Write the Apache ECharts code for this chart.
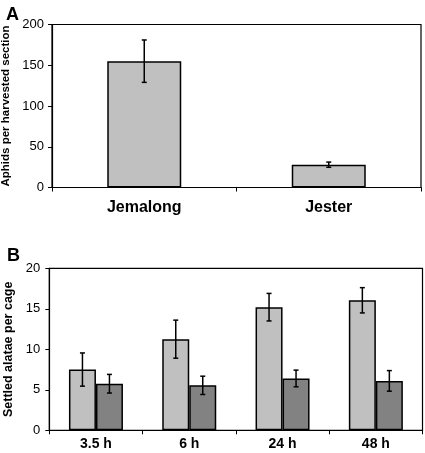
<!DOCTYPE html>
<html>
<head>
<meta charset="utf-8">
<script src="https://cdn.jsdelivr.net/npm/echarts@6/dist/echarts.min.js"></script>
<style>
html,body{margin:0;padding:0;background:#fff;}
#c{width:425px;height:453px;}
</style>
</head>
<body>
<div id="c"></div>
<script>
// Panel A data
const catsA = ['Jemalong', 'Jester'];
const valsA = [155, 28];
const errA = [26, 3.2];
const ticksA = [0, 50, 100, 150, 200];

// Panel B data
const catsB = ['3.5 h', '6 h', '24 h', '48 h'];
const lightB = [7.5, 11.25, 15.2, 16.05];
const lightErrB = [2.05, 2.35, 1.7, 1.56];
const darkB = [5.75, 5.55, 6.4, 6.1];
const darkErrB = [1.15, 1.13, 1.03, 1.27];
const ticksB = [0, 5, 10, 15, 20];

const FONT = "'Liberation Sans', Arial, Helvetica, sans-serif";
const LIGHT = '#c0c0c0';
const DARK = '#828282';
const BAR_W_B = 27;

function errRenderer(offsetPx) {
  return function (params, api) {
    const x = api.value(0);
    const v = api.value(1);
    const e = api.value(2);
    const top = api.coord([x, v + e]);
    const bot = api.coord([x, v - e]);
    const cx = top[0] + offsetPx;
    const cap = 2.5;
    const st = { stroke: '#000', lineWidth: 1.5 };
    return {
      type: 'group',
      children: [
        { type: 'line', shape: { x1: cx, y1: top[1], x2: cx, y2: bot[1] }, style: st },
        { type: 'line', shape: { x1: cx - cap, y1: top[1], x2: cx + cap, y2: top[1] }, style: st },
        { type: 'line', shape: { x1: cx - cap, y1: bot[1], x2: cx + cap, y2: bot[1] }, style: st }
      ]
    };
  };
}

const axisLineStyle = { show: true, lineStyle: { color: '#000', width: 1.2 } };

const option = {
  animation: false,
  backgroundColor: '#fff',
  textStyle: { fontFamily: FONT },
  title: [
    { text: 'A', left: 1, top: 1, textStyle: { fontSize: 18, fontWeight: 'bold', color: '#000', fontFamily: FONT } },
    { text: 'B', left: 2, top: 242, textStyle: { fontSize: 18, fontWeight: 'bold', color: '#000', fontFamily: FONT } }
  ],
  grid: [
    { left: 52, right: 4, top: 24.5, height: 163, show: true, borderColor: '#000', borderWidth: 1.2, backgroundColor: 'transparent', containLabel: false, outerBoundsMode: 'none' },
    { left: 49.3, right: 2.5, top: 268.3, height: 162, show: true, borderColor: '#000', borderWidth: 1.2, backgroundColor: 'transparent', containLabel: false, outerBoundsMode: 'none' }
  ],
  xAxis: [
    {
      gridIndex: 0, type: 'category', data: catsA,
      axisLine: axisLineStyle,
      axisTick: { show: true, length: 4, lineStyle: { color: '#000' } },
      axisLabel: { color: '#000', fontSize: 16, fontWeight: 'bold', margin: 12, fontFamily: FONT }
    },
    {
      gridIndex: 1, type: 'category', data: catsB,
      axisLine: axisLineStyle,
      axisTick: { show: true, length: 4, lineStyle: { color: '#000' } },
      axisLabel: { color: '#000', fontSize: 14, fontWeight: 'bold', margin: 7, fontFamily: FONT }
    }
  ],
  yAxis: [
    {
      gridIndex: 0, type: 'value', min: ticksA[0], max: ticksA[ticksA.length - 1], interval: ticksA[1] - ticksA[0],
      axisLine: axisLineStyle,
      axisTick: { show: true, length: 4, lineStyle: { color: '#000' } },
      splitLine: { show: false },
      axisLabel: { color: '#000', fontSize: 13, margin: 8, fontFamily: FONT },
      name: 'Aphids per harvested section', nameLocation: 'middle', nameGap: 36,
      nameTextStyle: { color: '#000', fontSize: 11.5, fontWeight: 'bold', fontFamily: FONT }
    },
    {
      gridIndex: 1, type: 'value', min: ticksB[0], max: ticksB[ticksB.length - 1], interval: ticksB[1] - ticksB[0],
      axisLine: axisLineStyle,
      axisTick: { show: true, length: 4, lineStyle: { color: '#000' } },
      splitLine: { show: false },
      axisLabel: { color: '#000', fontSize: 13, margin: 9, fontFamily: FONT },
      name: 'Settled alatae per cage', nameLocation: 'middle', nameGap: 32,
      nameTextStyle: { color: '#000', fontSize: 12.5, fontWeight: 'bold', fontFamily: FONT }
    }
  ],
  series: [
    {
      type: 'bar', xAxisIndex: 0, yAxisIndex: 0, data: valsA, barWidth: 74,
      itemStyle: { color: LIGHT, borderColor: '#000', borderWidth: 1.5 }
    },
    {
      type: 'custom', xAxisIndex: 0, yAxisIndex: 0, z: 5,
      data: catsA.map((c, i) => [i, valsA[i], errA[i]]),
      renderItem: errRenderer(0)
    },
    {
      type: 'bar', xAxisIndex: 1, yAxisIndex: 1, data: lightB, barWidth: BAR_W_B, barGap: '0%',
      itemStyle: { color: LIGHT, borderColor: '#000', borderWidth: 1.5 }
    },
    {
      type: 'bar', xAxisIndex: 1, yAxisIndex: 1, data: darkB, barWidth: BAR_W_B, barGap: '0%',
      itemStyle: { color: DARK, borderColor: '#000', borderWidth: 1.5 }
    },
    {
      type: 'custom', xAxisIndex: 1, yAxisIndex: 1, z: 5,
      data: catsB.map((c, i) => [i, lightB[i], lightErrB[i]]),
      renderItem: errRenderer(-BAR_W_B / 2)
    },
    {
      type: 'custom', xAxisIndex: 1, yAxisIndex: 1, z: 5,
      data: catsB.map((c, i) => [i, darkB[i], darkErrB[i]]),
      renderItem: errRenderer(BAR_W_B / 2)
    }
  ]
};

const chart = echarts.init(document.getElementById('c'), null, { renderer: 'canvas' });
chart.setOption(option);
</script>
</body>
</html>
